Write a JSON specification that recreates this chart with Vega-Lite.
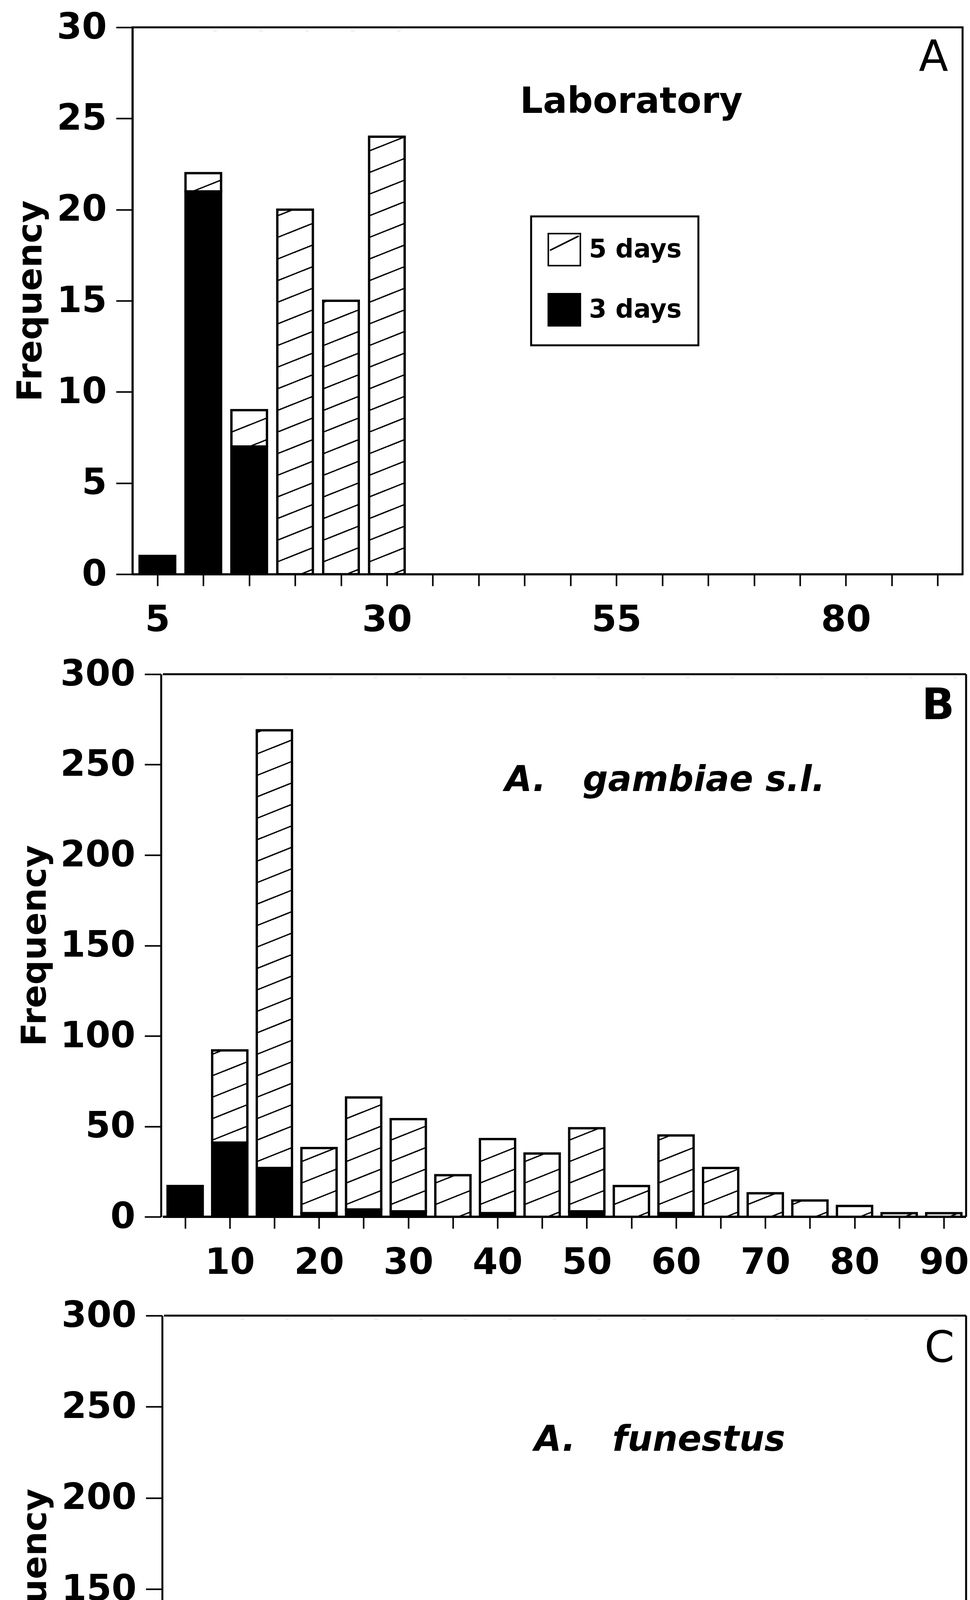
{
  "$schema": "https://vega.github.io/schema/vega-lite/v6.json",
  "background": "white",
  "padding": {"left": 33, "top": 21, "right": 0, "bottom": 8},
  "datasets": {
    "A": [
      {"size": 5, "days": "3 days", "freq": 1},
      {"size": 10, "days": "3 days", "freq": 21},
      {"size": 15, "days": "3 days", "freq": 7},
      {"size": 10, "days": "5 days", "freq": 1},
      {"size": 15, "days": "5 days", "freq": 2},
      {"size": 20, "days": "5 days", "freq": 20},
      {"size": 25, "days": "5 days", "freq": 15},
      {"size": 30, "days": "5 days", "freq": 24}
    ],
    "B": [
      {"size": 5, "days": "3 days", "freq": 17},
      {"size": 10, "days": "3 days", "freq": 41},
      {"size": 15, "days": "3 days", "freq": 27},
      {"size": 20, "days": "3 days", "freq": 2},
      {"size": 25, "days": "3 days", "freq": 4},
      {"size": 30, "days": "3 days", "freq": 3},
      {"size": 40, "days": "3 days", "freq": 2},
      {"size": 50, "days": "3 days", "freq": 3},
      {"size": 60, "days": "3 days", "freq": 2},
      {"size": 10, "days": "5 days", "freq": 51},
      {"size": 15, "days": "5 days", "freq": 242},
      {"size": 20, "days": "5 days", "freq": 36},
      {"size": 25, "days": "5 days", "freq": 62},
      {"size": 30, "days": "5 days", "freq": 51},
      {"size": 35, "days": "5 days", "freq": 23},
      {"size": 40, "days": "5 days", "freq": 41},
      {"size": 45, "days": "5 days", "freq": 35},
      {"size": 50, "days": "5 days", "freq": 46},
      {"size": 55, "days": "5 days", "freq": 17},
      {"size": 60, "days": "5 days", "freq": 43},
      {"size": 65, "days": "5 days", "freq": 27},
      {"size": 70, "days": "5 days", "freq": 13},
      {"size": 75, "days": "5 days", "freq": 9},
      {"size": 80, "days": "5 days", "freq": 6},
      {"size": 85, "days": "5 days", "freq": 2},
      {"size": 90, "days": "5 days", "freq": 2}
    ],
    "C": [
      {"size": 5, "days": "3 days", "freq": 89},
      {"size": 10, "days": "3 days", "freq": 68},
      {"size": 15, "days": "3 days", "freq": 35},
      {"size": 20, "days": "3 days", "freq": 4},
      {"size": 25, "days": "3 days", "freq": 8},
      {"size": 30, "days": "3 days", "freq": 9},
      {"size": 40, "days": "3 days", "freq": 3},
      {"size": 45, "days": "3 days", "freq": 2},
      {"size": 50, "days": "3 days", "freq": 10},
      {"size": 60, "days": "3 days", "freq": 3},
      {"size": 65, "days": "3 days", "freq": 4},
      {"size": 10, "days": "5 days", "freq": 17},
      {"size": 15, "days": "5 days", "freq": 56},
      {"size": 20, "days": "5 days", "freq": 21},
      {"size": 25, "days": "5 days", "freq": 51},
      {"size": 30, "days": "5 days", "freq": 52},
      {"size": 35, "days": "5 days", "freq": 11},
      {"size": 40, "days": "5 days", "freq": 23},
      {"size": 45, "days": "5 days", "freq": 17},
      {"size": 50, "days": "5 days", "freq": 55},
      {"size": 55, "days": "5 days", "freq": 12},
      {"size": 60, "days": "5 days", "freq": 40},
      {"size": 65, "days": "5 days", "freq": 41},
      {"size": 70, "days": "5 days", "freq": 17},
      {"size": 75, "days": "5 days", "freq": 8},
      {"size": 80, "days": "5 days", "freq": 6},
      {"size": 90, "days": "5 days", "freq": 1}
    ]
  },
  "concat": [
    {
      "width": 2124,
      "height": 1400,
      "data": {"name": "A"},
      "layer": [
        {
          "transform": [{"filter": "datum.days === '5 days'"}],
          "mark": {"type": "bar", "width": 91, "strokeWidth": 0, "fill": {"gradient": "linear", "x1": 0, "y1": 0, "x2": 0.0267, "y2": 1.0253, "stops": [{"offset": 0, "color": "white"}, {"offset": 0.02, "color": "white"}, {"offset": 0.02, "color": "black"}, {"offset": 0.0226, "color": "black"}, {"offset": 0.0226, "color": "white"}, {"offset": 0.0588, "color": "white"}, {"offset": 0.0588, "color": "black"}, {"offset": 0.0614, "color": "black"}, {"offset": 0.0614, "color": "white"}, {"offset": 0.0976, "color": "white"}, {"offset": 0.0976, "color": "black"}, {"offset": 0.1002, "color": "black"}, {"offset": 0.1002, "color": "white"}, {"offset": 0.1364, "color": "white"}, {"offset": 0.1364, "color": "black"}, {"offset": 0.139, "color": "black"}, {"offset": 0.139, "color": "white"}, {"offset": 0.1752, "color": "white"}, {"offset": 0.1752, "color": "black"}, {"offset": 0.1778, "color": "black"}, {"offset": 0.1778, "color": "white"}, {"offset": 0.214, "color": "white"}, {"offset": 0.214, "color": "black"}, {"offset": 0.2166, "color": "black"}, {"offset": 0.2166, "color": "white"}, {"offset": 0.2528, "color": "white"}, {"offset": 0.2528, "color": "black"}, {"offset": 0.2554, "color": "black"}, {"offset": 0.2554, "color": "white"}, {"offset": 0.2916, "color": "white"}, {"offset": 0.2916, "color": "black"}, {"offset": 0.2942, "color": "black"}, {"offset": 0.2942, "color": "white"}, {"offset": 0.3304, "color": "white"}, {"offset": 0.3304, "color": "black"}, {"offset": 0.333, "color": "black"}, {"offset": 0.333, "color": "white"}, {"offset": 0.3692, "color": "white"}, {"offset": 0.3692, "color": "black"}, {"offset": 0.3718, "color": "black"}, {"offset": 0.3718, "color": "white"}, {"offset": 0.408, "color": "white"}, {"offset": 0.408, "color": "black"}, {"offset": 0.4106, "color": "black"}, {"offset": 0.4106, "color": "white"}, {"offset": 0.4468, "color": "white"}, {"offset": 0.4468, "color": "black"}, {"offset": 0.4494, "color": "black"}, {"offset": 0.4494, "color": "white"}, {"offset": 0.4856, "color": "white"}, {"offset": 0.4856, "color": "black"}, {"offset": 0.4882, "color": "black"}, {"offset": 0.4882, "color": "white"}, {"offset": 0.5244, "color": "white"}, {"offset": 0.5244, "color": "black"}, {"offset": 0.527, "color": "black"}, {"offset": 0.527, "color": "white"}, {"offset": 0.5632, "color": "white"}, {"offset": 0.5632, "color": "black"}, {"offset": 0.5658, "color": "black"}, {"offset": 0.5658, "color": "white"}, {"offset": 0.602, "color": "white"}, {"offset": 0.602, "color": "black"}, {"offset": 0.6046, "color": "black"}, {"offset": 0.6046, "color": "white"}, {"offset": 0.6408, "color": "white"}, {"offset": 0.6408, "color": "black"}, {"offset": 0.6434, "color": "black"}, {"offset": 0.6434, "color": "white"}, {"offset": 0.6796, "color": "white"}, {"offset": 0.6796, "color": "black"}, {"offset": 0.6822, "color": "black"}, {"offset": 0.6822, "color": "white"}, {"offset": 0.7184, "color": "white"}, {"offset": 0.7184, "color": "black"}, {"offset": 0.721, "color": "black"}, {"offset": 0.721, "color": "white"}, {"offset": 0.7572, "color": "white"}, {"offset": 0.7572, "color": "black"}, {"offset": 0.7598, "color": "black"}, {"offset": 0.7598, "color": "white"}, {"offset": 0.796, "color": "white"}, {"offset": 0.796, "color": "black"}, {"offset": 0.7986, "color": "black"}, {"offset": 0.7986, "color": "white"}, {"offset": 0.8348, "color": "white"}, {"offset": 0.8348, "color": "black"}, {"offset": 0.8374, "color": "black"}, {"offset": 0.8374, "color": "white"}, {"offset": 0.8736, "color": "white"}, {"offset": 0.8736, "color": "black"}, {"offset": 0.8762, "color": "black"}, {"offset": 0.8762, "color": "white"}, {"offset": 0.9124, "color": "white"}, {"offset": 0.9124, "color": "black"}, {"offset": 0.915, "color": "black"}, {"offset": 0.915, "color": "white"}, {"offset": 0.9512, "color": "white"}, {"offset": 0.9512, "color": "black"}, {"offset": 0.9538, "color": "black"}, {"offset": 0.9538, "color": "white"}, {"offset": 0.99, "color": "white"}, {"offset": 0.99, "color": "black"}, {"offset": 0.9926, "color": "black"}, {"offset": 0.9926, "color": "white"}, {"offset": 1, "color": "white"}]}},
          "encoding": {
            "x": {"field": "size", "type": "quantitative", "scale": {"domain": [2.5, 92.5], "nice": false, "zero": false}, "axis": {"title": null, "values": [5,10,15,20,25,30,35,40,45,50,55,60,65,70,75,80,85,90], "labelExpr": "(datum.value - 5) % 25 === 0 ? datum.label : ''"}},
            "y": {"datum": 29.8, "type": "quantitative", "scale": {"domain": [0, 30], "nice": false}, "axis": {"title": "Frequency", "titlePadding": 21, "values": [0,5,10,15,20,25,30]}},
            "y2": {"datum": 0}
          }
        },
        {
          "transform": [{"aggregate": [{"op": "sum", "field": "freq", "as": "total"}], "groupby": ["size"]}],
          "mark": {"type": "bar", "fill": "white", "strokeWidth": 0, "width": 95},
          "encoding": {
            "x": {"field": "size", "type": "quantitative", "scale": {"domain": [2.5, 92.5], "nice": false, "zero": false}, "axis": {"title": null, "values": [5,10,15,20,25,30,35,40,45,50,55,60,65,70,75,80,85,90], "labelExpr": "(datum.value - 5) % 25 === 0 ? datum.label : ''"}},
            "y": {"field": "total", "type": "quantitative", "scale": {"domain": [0, 30], "nice": false}, "axis": {"title": "Frequency", "titlePadding": 21, "values": [0,5,10,15,20,25,30]}},
            "y2": {"datum": 29.8}
          }
        },
        {
          "mark": {"type": "bar", "stroke": "black", "strokeWidth": 6, "width": 91},
          "encoding": {
            "x": {"field": "size", "type": "quantitative", "scale": {"domain": [2.5, 92.5], "nice": false, "zero": false}, "axis": {"title": null, "values": [5,10,15,20,25,30,35,40,45,50,55,60,65,70,75,80,85,90], "labelExpr": "(datum.value - 5) % 25 === 0 ? datum.label : ''"}},
            "y": {"field": "freq", "type": "quantitative", "stack": "zero", "scale": {"domain": [0, 30], "nice": false}, "axis": {"title": "Frequency", "titlePadding": 21, "values": [0,5,10,15,20,25,30]}},
            "order": {"field": "days", "sort": "ascending"},
            "fill": {"field": "days", "type": "nominal",
                     "scale": {"domain": ["5 days", "3 days"], "range": ["transparent", "black"]},
                     "legend": {
                       "title": null, "orient": "none", "legendX": 1020, "legendY": 484,
                       "padding": 42, "symbolType": "M -1 -1 L 1 -1 L 1 1 L -1 1 Z M -0.9 0.05 L 0.9 -0.85", "symbolSize": 6724,
                       "symbolStrokeColor": "black", "symbolStrokeWidth": 4, "symbolOpacity": 1,
                       "labelFont": "DejaVu Sans", "labelFontWeight": "bold", "labelFontSize": 65, "labelLimit": 500,
                       "labelColor": "black", "labelOffset": 20, "rowPadding": 56, "fillColor": "white"
                     }}
          }
        },
        {
          "data": {"values": [{}]},
          "mark": {"type": "text", "text": "Laboratory", "font": "DejaVu Sans", "fontWeight": "bold", "fontSize": 92, "align": "left", "baseline": "alphabetic", "color": "black"},
          "encoding": {
            "x": {"datum": 44.5, "type": "quantitative", "scale": {"domain": [2.5, 92.5], "nice": false, "zero": false}, "axis": {"title": null, "values": [5,10,15,20,25,30,35,40,45,50,55,60,65,70,75,80,85,90], "labelExpr": "(datum.value - 5) % 25 === 0 ? datum.label : ''"}},
            "y": {"datum": 25.3, "type": "quantitative", "scale": {"domain": [0, 30], "nice": false}, "axis": {"title": "Frequency", "titlePadding": 21, "values": [0,5,10,15,20,25,30]}}
          }
        },
        {
          "data": {"values": [{}]},
          "mark": {"type": "text", "text": "A", "font": "DejaVu Sans", "fontWeight": "normal", "fontSize": 110, "align": "right", "baseline": "alphabetic", "color": "black"},
          "encoding": {
            "x": {"datum": 91.15, "type": "quantitative", "scale": {"domain": [2.5, 92.5], "nice": false, "zero": false}, "axis": {"title": null, "values": [5,10,15,20,25,30,35,40,45,50,55,60,65,70,75,80,85,90], "labelExpr": "(datum.value - 5) % 25 === 0 ? datum.label : ''"}},
            "y": {"datum": 27.6, "type": "quantitative", "scale": {"domain": [0, 30], "nice": false}, "axis": {"title": "Frequency", "titlePadding": 21, "values": [0,5,10,15,20,25,30]}}
          }
        }
      ]
    },
    {
      "width": 2138,
      "height": 1389,
      "view": {"stroke": null},
      "data": {"name": "B"},
      "layer": [
        {
          "transform": [{"filter": "datum.days === '5 days'"}],
          "mark": {"type": "bar", "width": 90, "strokeWidth": 0, "fill": {"gradient": "linear", "x1": 0, "y1": 0, "x2": 0.0267, "y2": 1.0253, "stops": [{"offset": 0, "color": "white"}, {"offset": 0.02, "color": "white"}, {"offset": 0.02, "color": "black"}, {"offset": 0.0226, "color": "black"}, {"offset": 0.0226, "color": "white"}, {"offset": 0.0588, "color": "white"}, {"offset": 0.0588, "color": "black"}, {"offset": 0.0614, "color": "black"}, {"offset": 0.0614, "color": "white"}, {"offset": 0.0976, "color": "white"}, {"offset": 0.0976, "color": "black"}, {"offset": 0.1002, "color": "black"}, {"offset": 0.1002, "color": "white"}, {"offset": 0.1364, "color": "white"}, {"offset": 0.1364, "color": "black"}, {"offset": 0.139, "color": "black"}, {"offset": 0.139, "color": "white"}, {"offset": 0.1752, "color": "white"}, {"offset": 0.1752, "color": "black"}, {"offset": 0.1778, "color": "black"}, {"offset": 0.1778, "color": "white"}, {"offset": 0.214, "color": "white"}, {"offset": 0.214, "color": "black"}, {"offset": 0.2166, "color": "black"}, {"offset": 0.2166, "color": "white"}, {"offset": 0.2528, "color": "white"}, {"offset": 0.2528, "color": "black"}, {"offset": 0.2554, "color": "black"}, {"offset": 0.2554, "color": "white"}, {"offset": 0.2916, "color": "white"}, {"offset": 0.2916, "color": "black"}, {"offset": 0.2942, "color": "black"}, {"offset": 0.2942, "color": "white"}, {"offset": 0.3304, "color": "white"}, {"offset": 0.3304, "color": "black"}, {"offset": 0.333, "color": "black"}, {"offset": 0.333, "color": "white"}, {"offset": 0.3692, "color": "white"}, {"offset": 0.3692, "color": "black"}, {"offset": 0.3718, "color": "black"}, {"offset": 0.3718, "color": "white"}, {"offset": 0.408, "color": "white"}, {"offset": 0.408, "color": "black"}, {"offset": 0.4106, "color": "black"}, {"offset": 0.4106, "color": "white"}, {"offset": 0.4468, "color": "white"}, {"offset": 0.4468, "color": "black"}, {"offset": 0.4494, "color": "black"}, {"offset": 0.4494, "color": "white"}, {"offset": 0.4856, "color": "white"}, {"offset": 0.4856, "color": "black"}, {"offset": 0.4882, "color": "black"}, {"offset": 0.4882, "color": "white"}, {"offset": 0.5244, "color": "white"}, {"offset": 0.5244, "color": "black"}, {"offset": 0.527, "color": "black"}, {"offset": 0.527, "color": "white"}, {"offset": 0.5632, "color": "white"}, {"offset": 0.5632, "color": "black"}, {"offset": 0.5658, "color": "black"}, {"offset": 0.5658, "color": "white"}, {"offset": 0.602, "color": "white"}, {"offset": 0.602, "color": "black"}, {"offset": 0.6046, "color": "black"}, {"offset": 0.6046, "color": "white"}, {"offset": 0.6408, "color": "white"}, {"offset": 0.6408, "color": "black"}, {"offset": 0.6434, "color": "black"}, {"offset": 0.6434, "color": "white"}, {"offset": 0.6796, "color": "white"}, {"offset": 0.6796, "color": "black"}, {"offset": 0.6822, "color": "black"}, {"offset": 0.6822, "color": "white"}, {"offset": 0.7184, "color": "white"}, {"offset": 0.7184, "color": "black"}, {"offset": 0.721, "color": "black"}, {"offset": 0.721, "color": "white"}, {"offset": 0.7572, "color": "white"}, {"offset": 0.7572, "color": "black"}, {"offset": 0.7598, "color": "black"}, {"offset": 0.7598, "color": "white"}, {"offset": 0.796, "color": "white"}, {"offset": 0.796, "color": "black"}, {"offset": 0.7986, "color": "black"}, {"offset": 0.7986, "color": "white"}, {"offset": 0.8348, "color": "white"}, {"offset": 0.8348, "color": "black"}, {"offset": 0.8374, "color": "black"}, {"offset": 0.8374, "color": "white"}, {"offset": 0.8736, "color": "white"}, {"offset": 0.8736, "color": "black"}, {"offset": 0.8762, "color": "black"}, {"offset": 0.8762, "color": "white"}, {"offset": 0.9124, "color": "white"}, {"offset": 0.9124, "color": "black"}, {"offset": 0.915, "color": "black"}, {"offset": 0.915, "color": "white"}, {"offset": 0.9512, "color": "white"}, {"offset": 0.9512, "color": "black"}, {"offset": 0.9538, "color": "black"}, {"offset": 0.9538, "color": "white"}, {"offset": 0.99, "color": "white"}, {"offset": 0.99, "color": "black"}, {"offset": 0.9926, "color": "black"}, {"offset": 0.9926, "color": "white"}, {"offset": 1, "color": "white"}]}},
          "encoding": {
            "x": {"field": "size", "type": "quantitative", "scale": {"domain": [-0.68, 92.5], "nice": false, "zero": false}, "axis": {"title": null, "domain": false, "values": [5,10,15,20,25,30,35,40,45,50,55,60,65,70,75,80,85,90], "labelExpr": "datum.value % 10 === 0 ? datum.label : ''"}},
            "y": {"datum": 298, "type": "quantitative", "scale": {"domain": [0, 300], "nice": false}, "axis": {"title": "Frequency", "offset": -73, "titlePadding": 78, "values": [0,50,100,150,200,250,300]}},
            "y2": {"datum": 0}
          }
        },
        {
          "transform": [{"aggregate": [{"op": "sum", "field": "freq", "as": "total"}], "groupby": ["size"]}],
          "mark": {"type": "bar", "fill": "white", "strokeWidth": 0, "width": 94},
          "encoding": {
            "x": {"field": "size", "type": "quantitative", "scale": {"domain": [-0.68, 92.5], "nice": false, "zero": false}, "axis": {"title": null, "domain": false, "values": [5,10,15,20,25,30,35,40,45,50,55,60,65,70,75,80,85,90], "labelExpr": "datum.value % 10 === 0 ? datum.label : ''"}},
            "y": {"field": "total", "type": "quantitative", "scale": {"domain": [0, 300], "nice": false}, "axis": {"title": "Frequency", "offset": -73, "titlePadding": 78, "values": [0,50,100,150,200,250,300]}},
            "y2": {"datum": 298}
          }
        },
        {
          "mark": {"type": "bar", "stroke": "black", "strokeWidth": 6, "width": 90},
          "encoding": {
            "x": {"field": "size", "type": "quantitative", "scale": {"domain": [-0.68, 92.5], "nice": false, "zero": false}, "axis": {"title": null, "domain": false, "values": [5,10,15,20,25,30,35,40,45,50,55,60,65,70,75,80,85,90], "labelExpr": "datum.value % 10 === 0 ? datum.label : ''"}},
            "y": {"field": "freq", "type": "quantitative", "stack": "zero", "scale": {"domain": [0, 300], "nice": false}, "axis": {"title": "Frequency", "offset": -73, "titlePadding": 78, "values": [0,50,100,150,200,250,300]}},
            "detail": {"field": "days"},
            "order": {"field": "days", "sort": "ascending"},
            "fill": {"condition": {"test": "datum.days === '3 days'", "value": "black"}, "value": "transparent"}
          }
        },
        {
          "data": {"values": [{}]},
          "mark": {"type": "rule", "stroke": "black", "strokeWidth": 5},
          "encoding": {
            "x": {"datum": 2.5, "type": "quantitative", "scale": {"domain": [-0.68, 92.5], "nice": false, "zero": false}, "axis": {"title": null, "domain": false, "values": [5,10,15,20,25,30,35,40,45,50,55,60,65,70,75,80,85,90], "labelExpr": "datum.value % 10 === 0 ? datum.label : ''"}},
            "x2": {"datum": 92.5},
            "y": {"datum": 300, "type": "quantitative", "scale": {"domain": [0, 300], "nice": false}, "axis": {"title": "Frequency", "offset": -73, "titlePadding": 78, "values": [0,50,100,150,200,250,300]}}
          }
        },
        {
          "data": {"values": [{}]},
          "mark": {"type": "rule", "stroke": "black", "strokeWidth": 6},
          "encoding": {
            "x": {"datum": 2.5, "type": "quantitative", "scale": {"domain": [-0.68, 92.5], "nice": false, "zero": false}, "axis": {"title": null, "domain": false, "values": [5,10,15,20,25,30,35,40,45,50,55,60,65,70,75,80,85,90], "labelExpr": "datum.value % 10 === 0 ? datum.label : ''"}},
            "x2": {"datum": 92.5},
            "y": {"datum": 0, "type": "quantitative", "scale": {"domain": [0, 300], "nice": false}, "axis": {"title": "Frequency", "offset": -73, "titlePadding": 78, "values": [0,50,100,150,200,250,300]}}
          }
        },
        {
          "data": {"values": [{}]},
          "mark": {"type": "rule", "stroke": "black", "strokeWidth": 5},
          "encoding": {
            "x": {"datum": 92.5, "type": "quantitative", "scale": {"domain": [-0.68, 92.5], "nice": false, "zero": false}, "axis": {"title": null, "domain": false, "values": [5,10,15,20,25,30,35,40,45,50,55,60,65,70,75,80,85,90], "labelExpr": "datum.value % 10 === 0 ? datum.label : ''"}},
            "y": {"datum": 0, "type": "quantitative", "scale": {"domain": [0, 300], "nice": false}, "axis": {"title": "Frequency", "offset": -73, "titlePadding": 78, "values": [0,50,100,150,200,250,300]}},
            "y2": {"datum": 300}
          }
        },
        {
          "data": {"values": [{}]},
          "mark": {"type": "text", "text": "A.\u00a0\u00a0\u00a0gambiae s.l.", "font": "DejaVu Sans", "fontWeight": "bold", "fontStyle": "italic", "fontSize": 90, "align": "left", "baseline": "alphabetic", "color": "black"},
          "encoding": {
            "x": {"datum": 40.82, "type": "quantitative", "scale": {"domain": [-0.68, 92.5], "nice": false, "zero": false}, "axis": {"title": null, "domain": false, "values": [5,10,15,20,25,30,35,40,45,50,55,60,65,70,75,80,85,90], "labelExpr": "datum.value % 10 === 0 ? datum.label : ''"}},
            "y": {"datum": 235.4, "type": "quantitative", "scale": {"domain": [0, 300], "nice": false}, "axis": {"title": "Frequency", "offset": -73, "titlePadding": 78, "values": [0,50,100,150,200,250,300]}}
          }
        },
        {
          "data": {"values": [{}]},
          "mark": {"type": "text", "text": "B", "font": "DejaVu Sans", "fontWeight": "bold", "fontSize": 110, "align": "right", "baseline": "alphabetic", "color": "black"},
          "encoding": {
            "x": {"datum": 91.2, "type": "quantitative", "scale": {"domain": [-0.68, 92.5], "nice": false, "zero": false}, "axis": {"title": null, "domain": false, "values": [5,10,15,20,25,30,35,40,45,50,55,60,65,70,75,80,85,90], "labelExpr": "datum.value % 10 === 0 ? datum.label : ''"}},
            "y": {"datum": 275.2, "type": "quantitative", "scale": {"domain": [0, 300], "nice": false}, "axis": {"title": "Frequency", "offset": -73, "titlePadding": 78, "values": [0,50,100,150,200,250,300]}}
          }
        }
      ]
    },
    {
      "width": 2138,
      "height": 1400,
      "view": {"stroke": null},
      "data": {"name": "C"},
      "layer": [
        {
          "transform": [{"filter": "datum.days === '5 days'"}],
          "mark": {"type": "bar", "width": 90, "strokeWidth": 0, "fill": {"gradient": "linear", "x1": 0, "y1": 0, "x2": 0.0267, "y2": 1.0253, "stops": [{"offset": 0, "color": "white"}, {"offset": 0.02, "color": "white"}, {"offset": 0.02, "color": "black"}, {"offset": 0.0226, "color": "black"}, {"offset": 0.0226, "color": "white"}, {"offset": 0.0588, "color": "white"}, {"offset": 0.0588, "color": "black"}, {"offset": 0.0614, "color": "black"}, {"offset": 0.0614, "color": "white"}, {"offset": 0.0976, "color": "white"}, {"offset": 0.0976, "color": "black"}, {"offset": 0.1002, "color": "black"}, {"offset": 0.1002, "color": "white"}, {"offset": 0.1364, "color": "white"}, {"offset": 0.1364, "color": "black"}, {"offset": 0.139, "color": "black"}, {"offset": 0.139, "color": "white"}, {"offset": 0.1752, "color": "white"}, {"offset": 0.1752, "color": "black"}, {"offset": 0.1778, "color": "black"}, {"offset": 0.1778, "color": "white"}, {"offset": 0.214, "color": "white"}, {"offset": 0.214, "color": "black"}, {"offset": 0.2166, "color": "black"}, {"offset": 0.2166, "color": "white"}, {"offset": 0.2528, "color": "white"}, {"offset": 0.2528, "color": "black"}, {"offset": 0.2554, "color": "black"}, {"offset": 0.2554, "color": "white"}, {"offset": 0.2916, "color": "white"}, {"offset": 0.2916, "color": "black"}, {"offset": 0.2942, "color": "black"}, {"offset": 0.2942, "color": "white"}, {"offset": 0.3304, "color": "white"}, {"offset": 0.3304, "color": "black"}, {"offset": 0.333, "color": "black"}, {"offset": 0.333, "color": "white"}, {"offset": 0.3692, "color": "white"}, {"offset": 0.3692, "color": "black"}, {"offset": 0.3718, "color": "black"}, {"offset": 0.3718, "color": "white"}, {"offset": 0.408, "color": "white"}, {"offset": 0.408, "color": "black"}, {"offset": 0.4106, "color": "black"}, {"offset": 0.4106, "color": "white"}, {"offset": 0.4468, "color": "white"}, {"offset": 0.4468, "color": "black"}, {"offset": 0.4494, "color": "black"}, {"offset": 0.4494, "color": "white"}, {"offset": 0.4856, "color": "white"}, {"offset": 0.4856, "color": "black"}, {"offset": 0.4882, "color": "black"}, {"offset": 0.4882, "color": "white"}, {"offset": 0.5244, "color": "white"}, {"offset": 0.5244, "color": "black"}, {"offset": 0.527, "color": "black"}, {"offset": 0.527, "color": "white"}, {"offset": 0.5632, "color": "white"}, {"offset": 0.5632, "color": "black"}, {"offset": 0.5658, "color": "black"}, {"offset": 0.5658, "color": "white"}, {"offset": 0.602, "color": "white"}, {"offset": 0.602, "color": "black"}, {"offset": 0.6046, "color": "black"}, {"offset": 0.6046, "color": "white"}, {"offset": 0.6408, "color": "white"}, {"offset": 0.6408, "color": "black"}, {"offset": 0.6434, "color": "black"}, {"offset": 0.6434, "color": "white"}, {"offset": 0.6796, "color": "white"}, {"offset": 0.6796, "color": "black"}, {"offset": 0.6822, "color": "black"}, {"offset": 0.6822, "color": "white"}, {"offset": 0.7184, "color": "white"}, {"offset": 0.7184, "color": "black"}, {"offset": 0.721, "color": "black"}, {"offset": 0.721, "color": "white"}, {"offset": 0.7572, "color": "white"}, {"offset": 0.7572, "color": "black"}, {"offset": 0.7598, "color": "black"}, {"offset": 0.7598, "color": "white"}, {"offset": 0.796, "color": "white"}, {"offset": 0.796, "color": "black"}, {"offset": 0.7986, "color": "black"}, {"offset": 0.7986, "color": "white"}, {"offset": 0.8348, "color": "white"}, {"offset": 0.8348, "color": "black"}, {"offset": 0.8374, "color": "black"}, {"offset": 0.8374, "color": "white"}, {"offset": 0.8736, "color": "white"}, {"offset": 0.8736, "color": "black"}, {"offset": 0.8762, "color": "black"}, {"offset": 0.8762, "color": "white"}, {"offset": 0.9124, "color": "white"}, {"offset": 0.9124, "color": "black"}, {"offset": 0.915, "color": "black"}, {"offset": 0.915, "color": "white"}, {"offset": 0.9512, "color": "white"}, {"offset": 0.9512, "color": "black"}, {"offset": 0.9538, "color": "black"}, {"offset": 0.9538, "color": "white"}, {"offset": 0.99, "color": "white"}, {"offset": 0.99, "color": "black"}, {"offset": 0.9926, "color": "black"}, {"offset": 0.9926, "color": "white"}, {"offset": 1, "color": "white"}]}},
          "encoding": {
            "x": {"field": "size", "type": "quantitative", "scale": {"domain": [-0.82, 92.5], "nice": false, "zero": false}, "axis": {"title": "Size (\u03bcm)", "titleFontSize": 92, "titlePadding": 68, "titleX": 1110, "domain": false, "values": [5,10,15,20,25,30,35,40,45,50,55,60,65,70,75,80,85,90], "labelExpr": "datum.value % 10 === 0 ? datum.label : ''"}},
            "y": {"datum": 298, "type": "quantitative", "scale": {"domain": [0, 300], "nice": false}, "axis": {"title": "Frequency", "offset": -76, "titlePadding": 80, "values": [0,50,100,150,200,250,300]}},
            "y2": {"datum": 0}
          }
        },
        {
          "transform": [{"aggregate": [{"op": "sum", "field": "freq", "as": "total"}], "groupby": ["size"]}],
          "mark": {"type": "bar", "fill": "white", "strokeWidth": 0, "width": 94},
          "encoding": {
            "x": {"field": "size", "type": "quantitative", "scale": {"domain": [-0.82, 92.5], "nice": false, "zero": false}, "axis": {"title": "Size (\u03bcm)", "titleFontSize": 92, "titlePadding": 68, "titleX": 1110, "domain": false, "values": [5,10,15,20,25,30,35,40,45,50,55,60,65,70,75,80,85,90], "labelExpr": "datum.value % 10 === 0 ? datum.label : ''"}},
            "y": {"field": "total", "type": "quantitative", "scale": {"domain": [0, 300], "nice": false}, "axis": {"title": "Frequency", "offset": -76, "titlePadding": 80, "values": [0,50,100,150,200,250,300]}},
            "y2": {"datum": 298}
          }
        },
        {
          "mark": {"type": "bar", "stroke": "black", "strokeWidth": 6, "width": 90},
          "encoding": {
            "x": {"field": "size", "type": "quantitative", "scale": {"domain": [-0.82, 92.5], "nice": false, "zero": false}, "axis": {"title": "Size (\u03bcm)", "titleFontSize": 92, "titlePadding": 68, "titleX": 1110, "domain": false, "values": [5,10,15,20,25,30,35,40,45,50,55,60,65,70,75,80,85,90], "labelExpr": "datum.value % 10 === 0 ? datum.label : ''"}},
            "y": {"field": "freq", "type": "quantitative", "stack": "zero", "scale": {"domain": [0, 300], "nice": false}, "axis": {"title": "Frequency", "offset": -76, "titlePadding": 80, "values": [0,50,100,150,200,250,300]}},
            "detail": {"field": "days"},
            "order": {"field": "days", "sort": "ascending"},
            "fill": {"condition": {"test": "datum.days === '3 days'", "value": "black"}, "value": "transparent"}
          }
        },
        {
          "data": {"values": [{}]},
          "mark": {"type": "rule", "stroke": "black", "strokeWidth": 5},
          "encoding": {
            "x": {"datum": 2.5, "type": "quantitative", "scale": {"domain": [-0.82, 92.5], "nice": false, "zero": false}, "axis": {"title": "Size (\u03bcm)", "titleFontSize": 92, "titlePadding": 68, "titleX": 1110, "domain": false, "values": [5,10,15,20,25,30,35,40,45,50,55,60,65,70,75,80,85,90], "labelExpr": "datum.value % 10 === 0 ? datum.label : ''"}},
            "x2": {"datum": 92.5},
            "y": {"datum": 300, "type": "quantitative", "scale": {"domain": [0, 300], "nice": false}, "axis": {"title": "Frequency", "offset": -76, "titlePadding": 80, "values": [0,50,100,150,200,250,300]}}
          }
        },
        {
          "data": {"values": [{}]},
          "mark": {"type": "rule", "stroke": "black", "strokeWidth": 6},
          "encoding": {
            "x": {"datum": 2.5, "type": "quantitative", "scale": {"domain": [-0.82, 92.5], "nice": false, "zero": false}, "axis": {"title": "Size (\u03bcm)", "titleFontSize": 92, "titlePadding": 68, "titleX": 1110, "domain": false, "values": [5,10,15,20,25,30,35,40,45,50,55,60,65,70,75,80,85,90], "labelExpr": "datum.value % 10 === 0 ? datum.label : ''"}},
            "x2": {"datum": 92.5},
            "y": {"datum": 0, "type": "quantitative", "scale": {"domain": [0, 300], "nice": false}, "axis": {"title": "Frequency", "offset": -76, "titlePadding": 80, "values": [0,50,100,150,200,250,300]}}
          }
        },
        {
          "data": {"values": [{}]},
          "mark": {"type": "rule", "stroke": "black", "strokeWidth": 5},
          "encoding": {
            "x": {"datum": 92.5, "type": "quantitative", "scale": {"domain": [-0.82, 92.5], "nice": false, "zero": false}, "axis": {"title": "Size (\u03bcm)", "titleFontSize": 92, "titlePadding": 68, "titleX": 1110, "domain": false, "values": [5,10,15,20,25,30,35,40,45,50,55,60,65,70,75,80,85,90], "labelExpr": "datum.value % 10 === 0 ? datum.label : ''"}},
            "y": {"datum": 0, "type": "quantitative", "scale": {"domain": [0, 300], "nice": false}, "axis": {"title": "Frequency", "offset": -76, "titlePadding": 80, "values": [0,50,100,150,200,250,300]}},
            "y2": {"datum": 300}
          }
        },
        {
          "data": {"values": [{}]},
          "mark": {"type": "text", "text": "A.\u00a0\u00a0\u00a0funestus", "font": "DejaVu Sans", "fontWeight": "bold", "fontStyle": "italic", "fontSize": 90, "align": "left", "baseline": "alphabetic", "color": "black"},
          "encoding": {
            "x": {"datum": 44.05, "type": "quantitative", "scale": {"domain": [-0.82, 92.5], "nice": false, "zero": false}, "axis": {"title": "Size (\u03bcm)", "titleFontSize": 92, "titlePadding": 68, "titleX": 1110, "domain": false, "values": [5,10,15,20,25,30,35,40,45,50,55,60,65,70,75,80,85,90], "labelExpr": "datum.value % 10 === 0 ? datum.label : ''"}},
            "y": {"datum": 225.8, "type": "quantitative", "scale": {"domain": [0, 300], "nice": false}, "axis": {"title": "Frequency", "offset": -76, "titlePadding": 80, "values": [0,50,100,150,200,250,300]}}
          }
        },
        {
          "data": {"values": [{}]},
          "mark": {"type": "text", "text": "C", "font": "DejaVu Sans", "fontWeight": "normal", "fontSize": 110, "align": "right", "baseline": "alphabetic", "color": "black"},
          "encoding": {
            "x": {"datum": 91.2, "type": "quantitative", "scale": {"domain": [-0.82, 92.5], "nice": false, "zero": false}, "axis": {"title": "Size (\u03bcm)", "titleFontSize": 92, "titlePadding": 68, "titleX": 1110, "domain": false, "values": [5,10,15,20,25,30,35,40,45,50,55,60,65,70,75,80,85,90], "labelExpr": "datum.value % 10 === 0 ? datum.label : ''"}},
            "y": {"datum": 274.8, "type": "quantitative", "scale": {"domain": [0, 300], "nice": false}, "axis": {"title": "Frequency", "offset": -76, "titlePadding": 80, "values": [0,50,100,150,200,250,300]}}
          }
        }
      ]
    }
  ],
  "columns": 1,
  "spacing": 44,
  "bounds": "full",
  "resolve": {"scale": {"fill": "independent"}, "legend": {"fill": "independent"}},
  "config": {
    "font": "DejaVu Sans",
    "view": {"stroke": "black", "strokeWidth": 5},
    "axis": {
      "domainColor": "black", "domainWidth": 5, "tickColor": "black", "tickWidth": 4,
      "labelColor": "black", "labelFont": "DejaVu Sans", "labelFontWeight": "bold", "labelFontSize": 92, "labelLimit": 400,
      "titleColor": "black", "titleFont": "DejaVu Sans", "titleFontWeight": "bold", "titleFontSize": 88,
      "grid": false, "labelFlush": false, "labelOverlap": false, "labelBound": false
    },
    "axisX": {"tickSize": 30, "labelPadding": 42},
    "axisY": {"tickSize": 42, "labelPadding": 24, "titlePadding": 24},
    "legend": {"strokeColor": "black", "strokeWidth": 5}
  }
}
